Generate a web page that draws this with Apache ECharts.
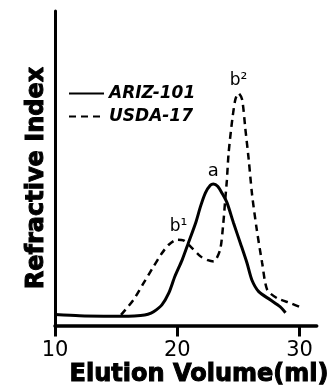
<!DOCTYPE html>
<html>
<head>
<meta charset="utf-8">
<script src="https://cdn.jsdelivr.net/npm/echarts@6/dist/echarts.min.js"></script>
<style>
  html, body { margin: 0; padding: 0; background: #fff; }
  #chart { width: 335px; height: 390px; }
</style>
</head>
<body>
<div id="chart"></div>
<script>
// elution volume (ml) vs refractive index response (arbitrary units, 0-100)
const arizVolume = [10, 12, 14, 16, 17, 17.6, 18.06, 18.74, 19.3, 19.8, 20.4, 20.9, 21.5, 21.9, 22.3, 22.7, 22.95, 23.3, 23.7, 24.07, 24.6, 25.16, 25.7, 26.1, 26.66, 27.6, 28.4, 28.85];
const arizSignal = [3.5, 3.1, 3.0, 3.0, 3.2, 3.6, 4.4, 6.6, 10.3, 15.6, 20.9, 26.2, 32.6, 37.9, 42.2, 44.6, 45.0, 44.3, 41.8, 39.0, 32.6, 26.2, 19.9, 14.5, 10.8, 8.2, 6.0, 4.1];

const usdaVolume = [15.4, 16.4, 17.24, 18.06, 18.74, 19.3, 19.97, 20.5, 21.07, 21.9, 22.5, 22.98, 23.5, 23.75, 23.92, 24.05, 24.2, 24.5, 24.75, 25.0, 25.3, 25.57, 25.84, 26.12, 26.5, 26.94, 27.35, 28.17, 29.3, 30.1];
const usdaSignal = [3.4, 8.1, 13.5, 18.8, 23.0, 25.7, 27.3, 27.1, 25.2, 22.0, 20.8, 20.4, 24.1, 32.0, 40.0, 46.0, 55.0, 65.6, 71.9, 73.9, 71.9, 62.4, 52.8, 41.5, 30.5, 19.9, 11.4, 8.7, 7.1, 5.8];

const xTicks = [10, 20, 30];

// peak annotations: a on ARIZ-101, b1/b2 on USDA-17
const arizPeakNames = ['a'];
const arizPeakVolume = [22.95];
const arizPeakSignal = [45.0];
const usdaPeakNames = ['b\u00b9', 'b\u00b2'];
const usdaPeakVolume = [20.1, 25.0];
const usdaPeakSignal = [27.3, 73.9];

const FONT = 'DejaVu Sans';

const zip = (xs, ys) => xs.map((x, i) => [x, ys[i]]);
const peaks = (names, xs, ys, size) => names.map((n, i) => ({
  name: n,
  coord: [xs[i], ys[i]],
  label: { formatter: n, fontSize: size }
}));

const chart = echarts.init(document.getElementById('chart'), null, { renderer: 'canvas' });

chart.setOption({
  animation: false,
  backgroundColor: '#fff',
  grid: { left: 55, right: 18.3, top: 11, bottom: 64.4, containLabel: false },
  legend: {
    orient: 'vertical',
    left: 68,
    top: 85,
    padding: 0,
    itemWidth: 35,
    itemHeight: 12,
    itemGap: 6,
    // line series draw a circle in the legend icon even with symbol none; hide it
    itemStyle: { opacity: 0, borderWidth: 0 },
    textStyle: { fontFamily: FONT, fontStyle: 'italic', fontWeight: 'bold', fontSize: 17, color: '#000' },
    data: ['ARIZ-101', 'USDA-17']
  },
  xAxis: {
    type: 'value',
    min: 10,
    max: 31.4,
    interval: 10,
    axisLine: { show: true, lineStyle: { color: '#000', width: 3.5 } },
    axisTick: { show: true, customValues: xTicks, length: 11, lineStyle: { color: '#000', width: 3 } },
    axisLabel: { customValues: xTicks, color: '#000', fontFamily: FONT, fontSize: 21, margin: 14 },
    splitLine: { show: false }
  },
  yAxis: {
    type: 'value',
    min: 0,
    max: 100,
    axisLine: { show: true, lineStyle: { color: '#000', width: 3 } },
    axisTick: { show: false },
    axisLabel: { show: false },
    splitLine: { show: false }
  },
  graphic: [
    {
      type: 'text', x: 37, y: 178, rotation: Math.PI / 2,
      style: {
        text: 'Refractive Index', fill: '#000', stroke: '#000', lineWidth: 1,
        font: 'bold 24px "DejaVu Sans"', align: 'center', verticalAlign: 'middle'
      }
    },
    {
      type: 'text', x: 199, y: 375,
      style: {
        text: 'Elution Volume(ml)', fill: '#000', stroke: '#000', lineWidth: 1,
        font: 'bold 24px "DejaVu Sans"', align: 'center', verticalAlign: 'middle'
      }
    }
  ],
  series: [
    {
      name: 'ARIZ-101',
      type: 'line',
      smooth: 0.25,
      symbol: 'none',
      lineStyle: { color: '#000', width: 3 },
      itemStyle: { color: '#000' },
      data: zip(arizVolume, arizSignal),
      markPoint: {
        symbol: 'circle',
        symbolSize: 1,
        itemStyle: { color: 'rgba(0,0,0,0)' },
        label: { show: true, position: 'top', distance: 3, color: '#000', fontFamily: FONT },
        data: peaks(arizPeakNames, arizPeakVolume, arizPeakSignal, 18)
      }
    },
    {
      name: 'USDA-17',
      type: 'line',
      smooth: 0.25,
      symbol: 'none',
      lineStyle: { color: '#000', width: 2.5, type: [7, 5] },
      itemStyle: { color: '#000' },
      data: zip(usdaVolume, usdaSignal),
      markPoint: {
        symbol: 'circle',
        symbolSize: 1,
        itemStyle: { color: 'rgba(0,0,0,0)' },
        label: { show: true, position: 'top', distance: 4, color: '#000', fontFamily: FONT },
        data: peaks(usdaPeakNames, usdaPeakVolume, usdaPeakSignal, 17)
      }
    }
  ]
});
</script>
</body>
</html>
